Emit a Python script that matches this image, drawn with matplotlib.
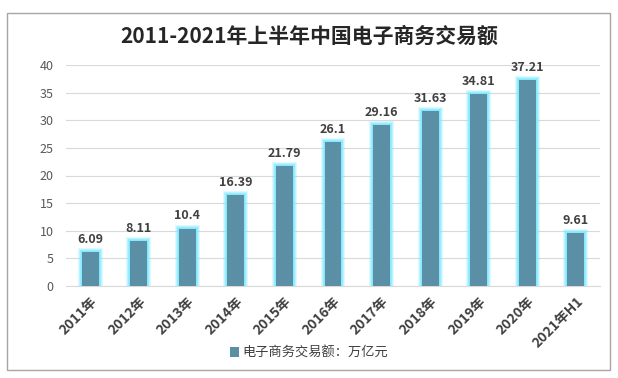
import matplotlib
matplotlib.use("Agg")
import matplotlib.pyplot as plt
from matplotlib.patches import Rectangle

plt.rcParams['font.family'] = ['Noto Sans CJK SC', 'DejaVu Sans']

categories = ['2011年', '2012年', '2013年', '2014年', '2015年', '2016年',
              '2017年', '2018年', '2019年', '2020年', '2021年H1']
values = [6.09, 8.11, 10.4, 16.39, 21.79, 26.1, 29.16, 31.63, 34.81, 37.21, 9.61]
labels = ['6.09', '8.11', '10.4', '16.39', '21.79', '26.1', '29.16', '31.63', '34.81', '37.21', '9.61']
yticks = [0, 5, 10, 15, 20, 25, 30, 35, 40]
title = '2011-2021年上半年中国电子商务交易额'
series_name = '电子商务交易额：万亿元'

bar_color = '#5B8FA6'

fig = plt.figure(figsize=(6.18, 3.78), dpi=100)
fig.patches.append(Rectangle((7/618, 1-370/378), (610-7)/618, (370-13)/378,
                             transform=fig.transFigure, fill=False,
                             edgecolor='#A6A6A6', linewidth=1.0))
ax = fig.add_axes([66/618, 1-286/378, (600-66)/618, (286-65)/378])

x = list(range(len(categories)))
px_x = 1 / 48.5          # one pixel in x data units
px_y = 40 / 221.0        # one pixel in y data units
bw = 0.35
# glow layers
for n, a in [(4, 0.25), (3, 0.35), (2, 0.55), (1, 0.8)]:
    ax.bar(x, [v + n * px_y for v in values], width=bw + 2 * n * px_x,
           color='#7FE9FF', alpha=a, zorder=2, linewidth=0)
bars = ax.bar(x, values, width=bw, color=bar_color, zorder=3, linewidth=0,
              label=series_name)

for xi, v, lab in zip(x, values, labels):
    ax.text(xi, v + 1.1, lab, ha='center', va='bottom', fontsize=9,
            fontweight='bold', color='#404040', zorder=4)

ax.set_xlim(-0.5, len(categories) - 0.5)
ax.set_ylim(0, 40)
ax.set_yticks(yticks)
ax.set_yticklabels([str(t) for t in yticks], fontsize=9, color='#595959')
ax.set_xticks(x)
ax.set_xticklabels(categories, rotation=45, ha='right', rotation_mode='anchor',
                   fontsize=10, fontweight='bold', color='#404040')
ax.tick_params(axis='both', length=0)
ax.tick_params(axis='y', pad=9)
ax.tick_params(axis='x', pad=6)
ax.grid(axis='y', color='#D9D9D9', linewidth=0.8, zorder=0)
ax.set_axisbelow(True)
for s in ['top', 'right', 'left']:
    ax.spines[s].set_visible(False)
ax.spines['bottom'].set_color('#D9D9D9')

fig.text(0.5, 1-36/378, title, ha='center', va='center', fontsize=15,
         fontweight='bold', color='#262626')

fig.legend(handles=[bars], labels=[series_name], loc='center',
           bbox_to_anchor=(0.5, 1-353/378), frameon=False, fontsize=9.5,
           handlelength=0.7, handleheight=0.7, handletextpad=0.3,
           labelcolor='#404040')

fig.savefig('out.png', dpi=100)
